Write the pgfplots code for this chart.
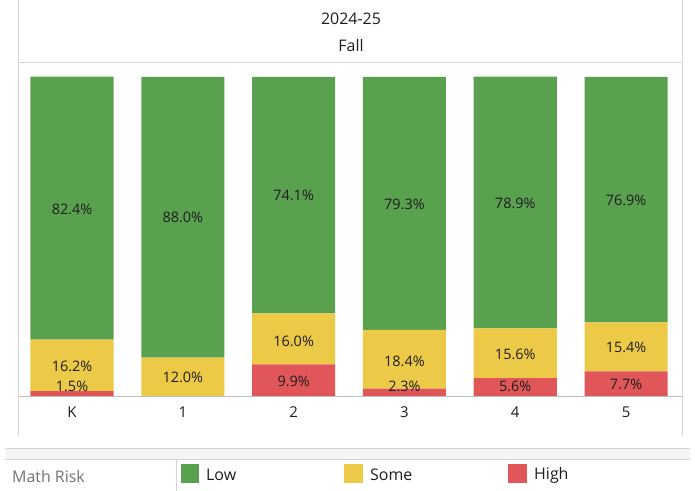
\documentclass[border=0pt]{standalone}
\usepackage{pgfplots}
\pgfplotsset{compat=1.18}
\usepackage{fontspec}
\setmainfont{Open Sans}
\definecolor{lowc}{HTML}{59A14F}
\definecolor{somec}{HTML}{EDC948}
\definecolor{highc}{HTML}{E15759}
\definecolor{framec}{HTML}{D6D6D6}
\definecolor{txt}{HTML}{1E1E1E}

\pgfplotstableread{
x high some low
0 1.5 16.2 82.4
1 0.0 12.0 88.0
2 9.9 16.0 74.1
3 2.3 18.4 79.3
4 5.6 15.6 78.9
5 7.7 15.4 76.9
}\datatab

\pgfplotsset{
  common/.style={
    at={(18.5bp,95bp)}, anchor=south west, scale only axis,
    width=663.5bp, height=334bp,
    xmin=-0.483, xmax=5.505, ymin=0, ymax=104.7,
  }
}

\begin{document}
\begin{tikzpicture}[x=1bp,y=1bp]
\path[use as bounding box] (0,0) rectangle (695,491);
\fill[white] (0,0) rectangle (695,491);
% frame of the chart
\draw[framec, line width=0.8bp] (18.5,491) -- (18.5,55);
\draw[framec, line width=0.8bp] (682,491) -- (682,55);
\draw[framec, line width=0.8bp] (18.5,429) -- (682,429);
\node[font=\fontsize{16}{18}\selectfont, text=txt] at (351,472) {2024-25};
\node[font=\fontsize{16}{18}\selectfont, text=txt] at (351,445) {Fall};

\begin{axis}[common,
  ybar stacked, bar width=0.75,
  axis y line=none, axis x line*=bottom,
  x axis line style={color=black!25, line width=0.8bp},
  xtick={0,1,2,3,4,5}, xticklabels={K,1,2,3,4,5},
  xticklabel style={font=\fontsize{15}{17}\selectfont, text=txt, yshift=-7bp},
  major tick length=0,
  ytick={20,40,60,80,100}, ymajorgrids,
  grid style={color=black!6, line width=0.6bp},
]
\addplot[fill=highc, draw=none] table[x=x, y=high] {\datatab};
\addplot[fill=somec, draw=none] table[x=x, y=some] {\datatab};
\addplot[fill=lowc, draw=none] table[x=x, y=low] {\datatab};
\end{axis}

\begin{axis}[common, hide axis, clip=false]
\addplot[draw=none, mark=none, nodes near coords, point meta=explicit symbolic,
  nodes near coords align=center,
  every node near coord/.append style={anchor=center, font=\fontsize{14.5}{16}\selectfont, text=txt}]
coordinates {
  (0,58.6)[82.4\%] (0,9.2)[16.2\%] (0,3.0)[1.5\%]
  (1,55.9)[88.0\%] (1,5.8)[12.0\%]
  (2,62.8)[74.1\%] (2,17.2)[16.0\%] (2,4.6)[9.9\%]
  (3,60.2)[79.3\%] (3,10.8)[18.4\%] (3,3.0)[2.3\%]
  (4,60.3)[78.9\%] (4,13.0)[15.6\%] (4,3.0)[5.6\%]
  (5,61.2)[76.9\%] (5,15.1)[15.4\%] (5,3.5)[7.7\%]
};
\end{axis}

% legend band
\fill[black!4] (5,43) rectangle (690,32);
\draw[framec, line width=0.8bp] (5,43) -- (690,43);
\draw[framec, line width=0.8bp] (5,32) -- (690,32);
\draw[framec, line width=0.8bp] (176,32) -- (176,0);
\node[anchor=west, font=\fontsize{16}{18}\selectfont, text=black!55, inner sep=0] at (12,14) {Math Risk};
\fill[lowc] (180.5,8) rectangle (199,27);
\fill[somec] (344,8) rectangle (362.5,27);
\fill[highc] (508,8) rectangle (526.5,27);
\node[anchor=west, font=\fontsize{16}{18}\selectfont, text=txt, inner sep=0] at (206,16) {Low};
\node[anchor=west, font=\fontsize{16}{18}\selectfont, text=txt, inner sep=0] at (370,16) {Some};
\node[anchor=west, font=\fontsize{16}{18}\selectfont, text=txt, inner sep=0] at (534,16) {High};
\end{tikzpicture}
\end{document}
